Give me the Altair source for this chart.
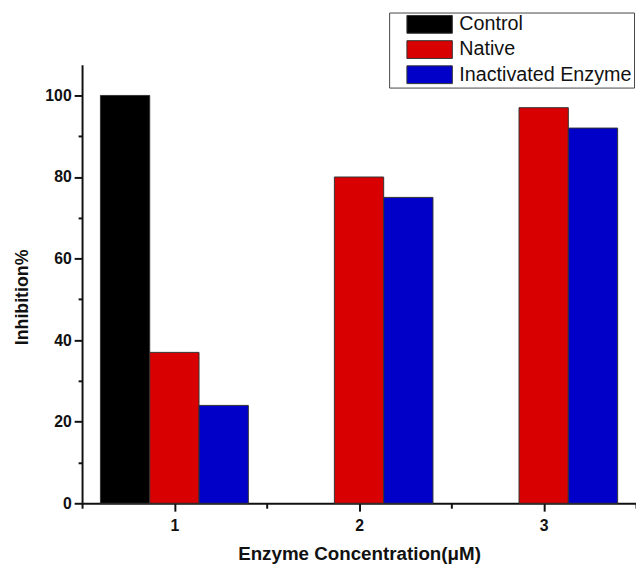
import altair as alt
import pandas as pd

# ---- data ----
concentrations = [1, 2, 3]
series_names = ["Control", "Native", "Inactivated Enzyme"]
control_values = [100, None, None]
native_values = [37, 80, 97]
inactivated_values = [24, 75, 92]

# ---- style ----
series_colors = ["#000000", "#d80000", "#0000c8"]
series_slot = [-1, 0, 1]      # position of each series inside a group
BAR_W = 0.267                 # bar width in x units
FONT = "Liberation Sans"

rows = []
for name, vals, slot in zip(series_names,
                            [control_values, native_values, inactivated_values],
                            series_slot):
    for c, v in zip(concentrations, vals):
        if v is not None:
            rows.append({"conc": c, "series": name, "value": v, "slot": slot})
df = pd.DataFrame(rows)

major_x = "datum.value % 1 == 0"
major_y = "datum.value % 20 == 0"

x_axis = alt.Axis(
    values=[0.5, 1, 1.5, 2, 2.5, 3, 3.5],
    labelExpr=f"{major_x} ? format(datum.value, 'd') : ''",
    tickSize={"condition": {"test": major_x, "value": 8}, "value": 5},
    labelFont=FONT, labelFontSize=16, labelFontWeight="bold", labelColor="#111",
    labelPadding=7,
    title="Enzyme Concentration(μM)",
    titleFont=FONT, titleFontSize=19, titleFontWeight="bold", titleColor="#111",
    titleY=57, titleBaseline="alphabetic",
    domainColor="#111", domainWidth=2, tickColor="#111", tickWidth=2,
    grid=False,
)

y_axis = alt.Axis(
    values=list(range(0, 101, 10)),
    labelExpr=f"{major_y} ? datum.label : ''",
    tickSize={"condition": {"test": major_y, "value": 8}, "value": 4},
    labelFont=FONT, labelFontSize=16, labelFontWeight="bold", labelColor="#111",
    labelPadding=3,
    title="Inhibition%",
    titleFont=FONT, titleFontSize=18, titleFontWeight="bold", titleColor="#111",
    titleX=-55, titleY=235, titleBaseline="alphabetic", titleAngle=270,
    domainColor="#111", domainWidth=2, tickColor="#111", tickWidth=2,
    grid=False,
)

legend = alt.Legend(
    title=None, orient="none", legendX=311, legendY=-53,
    symbolType="M0.667,-1L5.778,-1L5.778,1L0.667,1Z",
    symbolSize=324, symbolStrokeColor="#333", symbolStrokeWidth=1,
    symbolOpacity=1,
    labelFont=FONT, labelFontSize=20, labelColor="#111", labelOffset=49,
    labelLimit=400,
    padding=2, rowPadding=3.5,
    strokeColor="#444", fillColor="white", cornerRadius=0,
)

chart = alt.Chart(df).transform_calculate(
    x_start=f"datum.conc + (datum.slot - 0.5) * {BAR_W}",
    x_end=f"datum.conc + (datum.slot + 0.5) * {BAR_W}",
).mark_bar(stroke="#333333", strokeWidth=1, opacity=1).encode(
    x=alt.X("x_start:Q", scale=alt.Scale(domain=[0.5, 3.5], nice=False, zero=False),
            axis=x_axis),
    x2="x_end:Q",
    y=alt.Y("value:Q", scale=alt.Scale(domain=[0, 107.5], nice=False), axis=y_axis),
    y2=alt.datum(0),
    color=alt.Color("series:N",
                    scale=alt.Scale(domain=series_names, range=series_colors),
                    legend=legend),
).properties(
    width=561, height=444,
    background="white",
    autosize=alt.AutoSizeParams(type="none"),
    padding={"left": 75, "top": 54, "right": 0, "bottom": 65},
).configure_view(stroke=None)

chart.save("out.html", embed_options={"renderer": "svg", "actions": False})
